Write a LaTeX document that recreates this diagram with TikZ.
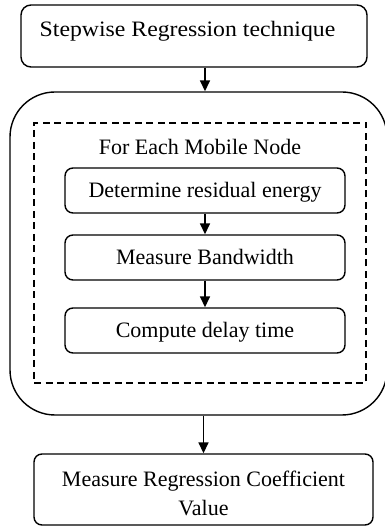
\documentclass[tikz,border=0pt]{standalone}
\usepackage{fontspec}
\setmainfont{Liberation Serif}
\newfontfamily\topfont[FakeStretch=1.08]{Liberation Serif}
\usetikzlibrary{arrows.meta}
\begin{document}
\begin{tikzpicture}[x=1pt,y=1pt,
  txt/.style={font=\fontsize{22}{29}\selectfont, inner sep=0pt, align=center},
  frame/.style={draw, line width=1.4pt, inner sep=0pt},
  box/.style={frame, rounded corners=8pt, txt, text height=15pt, text depth=0pt},
  arr/.style={line width=1.6pt, -{Triangle[length=11pt,width=10pt]}}]
\useasboundingbox (0,0) rectangle (385,527);
\node[frame, rounded corners=10pt, minimum width=346, minimum height=62] (top) at (194,491) {};
\node[txt, font=\topfont\fontsize{22}{24}\selectfont] (toptxt) at (187.5,496) {Stepwise Regression technique};
\node[frame, rounded corners=45pt, minimum width=377, minimum height=323] (big) at (198.5,273.5) {};
\node[frame, dash pattern=on 7pt off 4.5pt, minimum width=332, minimum height=260] (dash) at (200,274) {};
\node[txt] (title) at (200,380) {For Each Mobile Node};
\node[box, minimum width=280, minimum height=45] (b1) at (205,336.5) {Determine residual energy};
\node[box, minimum width=280, minimum height=45] (b2) at (205,269.5) {Measure Bandwidth};
\node[box, minimum width=280, minimum height=45] (b3) at (205,196.5) {Compute delay time};
\node[frame, rounded corners=8pt, minimum width=339, minimum height=71] (bot) at (203.5,37.5) {};
\node[txt] (bottxt) at (203.5,34) {Measure Regression Coefficient\\Value};
\draw[arr] (top.south -| b1) -- (big.north -| b1);
\draw[arr] (b1) -- (b2);
\draw[arr] (b2) -- (b3);
\draw[arr] (big.south -| bot) -- (bot);
\end{tikzpicture}
\end{document}
